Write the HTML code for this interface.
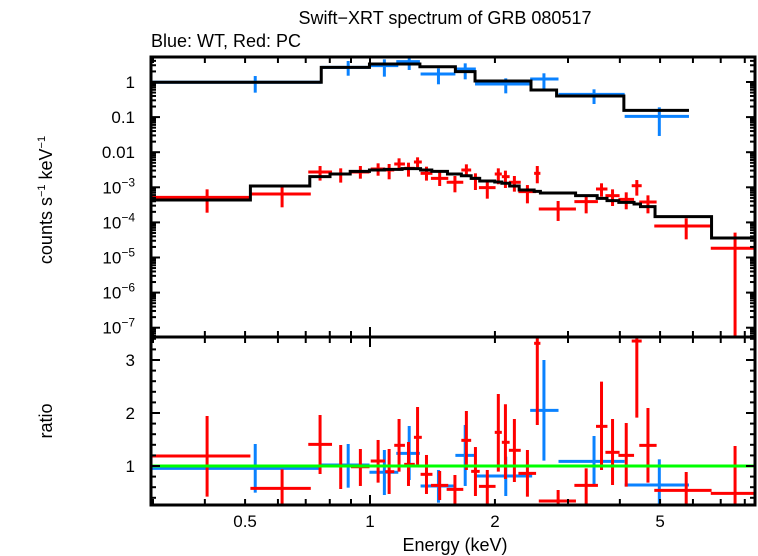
<!DOCTYPE html>
<html><head><meta charset="utf-8"><style>
html,body{margin:0;padding:0;background:#fff;}
svg{display:block;font-family:"Liberation Sans",Arial,sans-serif;}
</style></head><body>
<svg id="chart" width="758" height="556" viewBox="0 0 758 556">
<text x="445" y="24" font-size="18" text-anchor="middle">Swift−XRT spectrum of GRB 080517</text>
<text x="151" y="47" font-size="18">Blue: WT, Red: PC</text>
<text transform="translate(52,200) rotate(-90)" font-size="18" text-anchor="middle">counts s<tspan dy="-7" font-size="11">−1</tspan><tspan dy="7"> keV</tspan><tspan dy="-7" font-size="11">−1</tspan></text>
<text transform="translate(52,421) rotate(-90)" font-size="18" text-anchor="middle">ratio</text>
<text x="455" y="551" font-size="18" text-anchor="middle">Energy (keV)</text>
<g id="g"></g>
</svg>
<script>
// ---- data ----
const wtLo=[0.295,0.763,0.997,1.157,1.324,1.606,1.791,2.432,2.846,4.108];
const wtHi=[0.763,0.997,1.170,1.319,1.606,1.799,2.459,2.846,4.108,5.87];
const wtE=[0.529,0.886,1.083,1.243,1.462,1.696,2.124,2.625,3.466,4.979];
const wtVal=[0.98,2.62,2.92,3.80,1.69,2.35,0.877,1.22,0.445,0.105];
const wtUp=[1.48,3.97,4.42,5.88,2.45,3.40,1.27,1.77,0.618,0.190];
const wtDn=[0.497,1.51,1.42,2.20,0.86,1.19,0.475,0.632,0.236,0.029];
const wtModelEdges=[0.295,0.763,0.997,1.319,1.606,1.791,2.443,2.816,4.090,5.87];
const wtModel=[0.98,2.62,3.26,2.73,1.97,1.07,0.592,0.399,0.156];
const wtRatio=[0.956,1.019,0.881,1.239,0.623,1.201,0.811,2.050,1.088,0.642];
const wtRatioUp=[1.415,1.415,1.302,1.755,0.925,1.774,1.176,3.0,1.566,1.126];
const wtRatioDn=[0.497,0.591,0.453,0.736,0.308,0.623,0.434,1.101,0.642,0.264];

const pcLo=[0.295,0.515,0.710,0.797,0.900,1.004,1.088,1.144,1.209,1.276,1.324,1.402,1.530,1.660,1.753,1.830,1.998,2.078,2.161,2.278,2.486,2.551,3.108,3.504,3.692,3.968,4.272,4.455,4.842,6.624];
const pcHi=[0.515,0.720,0.810,0.896,0.997,1.088,1.144,1.214,1.282,1.333,1.414,1.544,1.678,1.753,1.838,2.007,2.078,2.170,2.308,2.513,2.574,3.135,3.542,3.734,3.994,4.328,4.515,4.905,6.653,8.54];
const pcE=[0.405,0.614,0.758,0.850,0.948,1.046,1.112,1.175,1.238,1.302,1.368,1.472,1.602,1.707,1.795,1.917,2.038,2.120,2.228,2.395,2.530,2.840,3.318,3.613,3.841,4.144,4.395,4.675,5.78,7.58];
const pcVal=[5.18e-4,6.44e-4,2.73e-3,2.39e-3,2.73e-3,3.32e-3,3.11e-3,4.61e-3,3.47e-3,5.26e-3,2.50e-3,1.80e-3,1.39e-3,3.11e-3,1.80e-3,9.77e-4,2.39e-3,2.01e-3,1.39e-3,7.51e-4,2.50e-3,2.41e-4,3.90e-4,8.95e-4,5.78e-4,4.54e-4,1.11e-3,3.81e-4,7.89e-5,1.83e-5];
const pcUp=[8.75e-4,1.04e-3,4.04e-3,3.47e-3,4.04e-3,4.82e-3,4.61e-3,6.69e-3,5.03e-3,7.14e-3,3.87e-3,2.73e-3,2.10e-3,4.51e-3,2.50e-3,1.45e-3,3.47e-3,2.98e-3,2.10e-3,1.16e-3,4.04e-3,4.07e-4,5.65e-4,1.30e-3,8.75e-4,7.19e-4,1.61e-3,5.90e-4,1.31e-4,5.10e-5];
const pcDn=[1.89e-4,2.69e-4,1.55e-3,1.36e-3,1.76e-3,2.14e-3,1.69e-3,2.98e-3,2.01e-3,3.71e-3,1.55e-3,1.09e-3,7.19e-4,2.14e-3,8.38e-4,4.74e-4,1.22e-3,9.55e-4,7.51e-4,3.49e-4,1.30e-3,1.10e-4,1.81e-4,5.41e-4,2.93e-4,2.36e-4,5.78e-4,1.81e-4,3.29e-5,1e-12];
const pcModelEdges=[0.295,0.515,0.716,0.801,0.896,0.997,1.083,1.195,1.324,1.409,1.537,1.660,1.753,1.838,1.998,2.078,2.170,2.288,2.486,2.574,3.129,3.527,3.725,3.977,4.328,4.485,4.862,6.653,8.54];
const pcModel=[4.35e-4,1.09e-3,2.01e-3,2.39e-3,2.85e-3,3.11e-3,3.25e-3,3.40e-3,3.11e-3,2.85e-3,2.39e-3,2.14e-3,1.80e-3,1.51e-3,1.42e-3,1.30e-3,1.09e-3,8.38e-4,7.67e-4,6.89e-4,5.78e-4,4.85e-4,4.16e-4,3.73e-4,3.34e-4,2.81e-4,1.46e-4,3.60e-5];
const pcRatio=[1.189,0.579,1.409,1.0,0.987,1.094,0.893,1.390,1.031,1.541,0.843,0.635,0.560,1.484,0.899,0.616,1.635,1.447,1.296,0.862,3.315,0.340,0.635,1.748,1.258,1.201,3.358,1.390,0.541,0.484];
const pcRatioUp=[1.943,0.937,1.962,1.396,1.321,1.491,1.321,1.887,1.453,2.113,1.208,0.906,0.830,2.038,1.358,0.925,2.358,2.164,1.887,1.302,3.9,0.547,0.956,2.591,1.887,1.811,4.0,2.094,0.887,1.377];
const pcRatioDn=[0.421,0.1,0.849,0.566,0.623,0.686,0.472,0.893,0.623,1.0,0.472,0.358,0.264,0.925,0.434,0.264,0.893,0.755,0.698,0.421,1.774,0.201,0.264,0.925,0.642,0.610,1.912,0.686,0.1,0.1];

const xTickLabels=["0.5","1","2","5"];
const xTickVals=[0.5,1,2,5];
const yTopTickExp=[0,-1,-2,-3,-4,-5,-6,-7];
const yBotTickVals=[1,2,3];

// ---- axes ----
const L=151,R=755,T1=57,B1=337,T2=337,B2=505;
const xs=e=>370+415*Math.log10(e);
const yTop=v=>82-35.1*Math.log10(v);
const yBot=r=>466-53*(r-1);
const NS="http://www.w3.org/2000/svg";
const g=document.getElementById('g');
function mk(tag,attrs,parent){const el=document.createElementNS(NS,tag);for(const k in attrs)el.setAttribute(k,attrs[k]);(parent||g).appendChild(el);return el;}

const defs=mk('defs',{});
const c1=mk('clipPath',{id:'c1'},defs);mk('rect',{x:L,y:T1,width:R-L,height:B1-T1},c1);
const c2=mk('clipPath',{id:'c2'},defs);mk('rect',{x:L,y:T2,width:R-L,height:B2-T2},c2);
const topG=mk('g',{'clip-path':'url(#c1)'});


const botG=mk('g',{'clip-path':'url(#c2)'});



function stepPath(edges,vals,yf){let d='';for(let i=0;i<vals.length;i++){const y=yf(vals[i]);d+=(i?'L':'M')+xs(edges[i])+' '+y+'L'+xs(edges[i+1])+' '+y;}return d;}
function cross(parent,lo,hi,e,v,up,dn,yf,col,name){
  const grp=mk('g',{stroke:col,'stroke-width':3,fill:'none'},parent);
  
  
  mk('line',{x1:xs(lo),x2:xs(hi),y1:yf(v),y2:yf(v)},grp);
  mk('line',{x1:xs(e),x2:xs(e),y1:yf(up),y2:yf(dn)},grp);
}
for(let i=0;i<wtE.length;i++)cross(topG,wtLo[i],wtHi[i],wtE[i],wtVal[i],wtUp[i],wtDn[i],yTop,'#0a82ff','wt-data-point');
for(let i=0;i<pcE.length;i++)cross(topG,pcLo[i],pcHi[i],pcE[i],pcVal[i],pcUp[i],pcDn[i],yTop,'#ff0000','pc-data-point');
const wm=mk('path',{d:stepPath(wtModelEdges,wtModel,yTop),stroke:'#000','stroke-width':3,fill:'none'},topG);


const pm=mk('path',{d:stepPath(pcModelEdges,pcModel,yTop),stroke:'#000','stroke-width':3,fill:'none'},topG);


for(let i=0;i<wtE.length;i++)cross(botG,wtLo[i],wtHi[i],wtE[i],wtRatio[i],wtRatioUp[i],wtRatioDn[i],yBot,'#0a82ff','wt-ratio-point');
for(let i=0;i<pcE.length;i++)cross(botG,pcLo[i],pcHi[i],pcE[i],pcRatio[i],pcRatioUp[i],pcRatioDn[i],yBot,'#ff0000','pc-ratio-point');
const unity=mk('line',{x1:L,x2:R,y1:yBot(1),y2:yBot(1),stroke:'#00ff00','stroke-width':3},botG);



const ax=mk('g',{stroke:'#000',fill:'none'});


mk('rect',{x:L,y:T1,width:R-L,height:B1-T1,'stroke-width':3},ax);
mk('rect',{x:L,y:T2,width:R-L,height:B2-T2,'stroke-width':3},ax);
const minors=[0.3,0.4,0.5,0.6,0.7,0.8,0.9,1,2,3,4,5,6,7,8];
minors.forEach(e=>{const x=xs(e);const len=(e===1)?10:6;
 [[T1,1],[B1,-1],[T2,1],[B2,-1]].forEach(([y,s])=>mk('line',{x1:x,x2:x,y1:y,y2:y+s*len,'stroke-width':2},ax));});
for(let p=-8;p<=1;p++){for(let m=1;m<10;m++){const v=m*Math.pow(10,p);const y=yTop(v);if(y<T1||y>B1)continue;const len=m===1?9:5;
 mk('line',{x1:L,x2:L+len,y1:y,y2:y,'stroke-width':2},ax);mk('line',{x1:R,x2:R-len,y1:y,y2:y,'stroke-width':2},ax);}}
for(let r=0.4;r<=3.41;r+=0.2){const y=yBot(r);const maj=Math.abs(r-Math.round(r))<0.01;const len=maj?9:5;
 mk('line',{x1:L,x2:L+len,y1:y,y2:y,'stroke-width':2},ax);mk('line',{x1:R,x2:R-len,y1:y,y2:y,'stroke-width':2},ax);}

xTickVals.forEach((e,i)=>{const t=mk('text',{x:xs(e),y:527,'font-size':17,'text-anchor':'middle'});t.textContent=xTickLabels[i];
 
 });
yTopTickExp.forEach(p=>{const t=mk('text',{x:135,y:yTop(Math.pow(10,p))+6,'font-size':17,'text-anchor':'end'});
 
 
 if(p>=-2){t.textContent=p===0?'1':(p===-1?'0.1':'0.01');}
 else{t.textContent='10';const s=mk('tspan',{dy:-7,'font-size':12},t);s.textContent='−'+(-p);}});
yBotTickVals.forEach(r=>{const t=mk('text',{x:135,y:yBot(r)+6,'font-size':17,'text-anchor':'end'});t.textContent=String(r);
 
 });
</script>
</body></html>
